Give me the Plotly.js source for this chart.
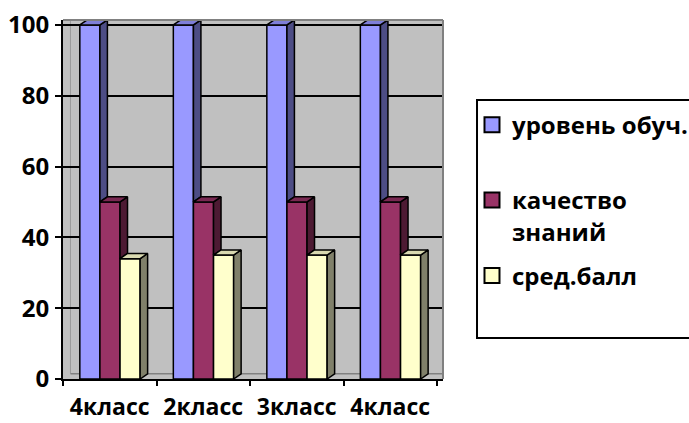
<!DOCTYPE html>
<html>
<head>
<meta charset="utf-8">
<script src="https://cdn.plot.ly/plotly-3.0.1.min.js"></script>
<style>html,body{margin:0;padding:0;background:#fff;}#chart{width:689px;height:423px;}</style>
</head>
<body>
<div id="chart"></div>
<script>
// ---- data ----
const categories = ["4класс", "2класс", "3класс", "4класс"];
const seriesNames = ["уровень обуч.<br> ", "качество<br>знаний", "сред.балл"];
const levelValues = [100, 100, 100, 100];
const qualityValues = [50, 50, 50, 50];
const avgValues = [34, 35, 35, 35];
const yTickVals = [0, 20, 40, 60, 80, 100];

// ---- styles ----
const allValues = [levelValues, qualityValues, avgValues];
const frontColors = ["#9999FF", "#993366", "#FFFFCC"];
const sideColors = ["#4D4D85", "#4D1A33", "#80806A"];
const topColors = ["#7F7FD9", "#7A2952", "#D9D9B0"];
const offsets = [-0.32, -0.105, 0.11];
const barW = 0.215;
const dx = 0.08, dy = 1.45;
const xIdx = categories.map((c, i) => i);
const font = "'Open Sans', 'Noto Sans', sans-serif";
const xRange = [-0.5, 3.564];
const yRange = [0, 101.4];

const traces = [];
// front faces as bars
allValues.forEach((vals, s) => {
  traces.push({
    type: "bar", x: xIdx, y: vals, name: seriesNames[s],
    width: barW, offset: offsets[s],
    marker: {color: frontColors[s], line: {color: "#000", width: 1.5}},
    showlegend: false, hoverinfo: "skip"
  });
});
// side and top faces (3D depth) computed from the data
allValues.forEach((vals, s) => {
  const sx = [], sy = [], tx = [], ty = [];
  vals.forEach((v, i) => {
    const x0 = i + offsets[s];
    const x1 = x0 + barW;
    const lower = s + 1 < allValues.length ? Math.min(allValues[s + 1][i], v) : 0;
    sx.push(x1, x1 + dx, x1 + dx, x1, x1, null);
    sy.push(lower, lower + dy, v + dy, v, lower, null);
    tx.push(x0, x0 + dx, x1 + dx, x1, x0, null);
    ty.push(v, v + dy, v + dy, v, v, null);
  });
  traces.push({type: "scatter", mode: "lines", x: sx, y: sy, fill: "toself",
    fillcolor: sideColors[s], line: {color: "#000", width: 1.5}, showlegend: false, hoverinfo: "skip"});
  traces.push({type: "scatter", mode: "lines", x: tx, y: ty, fill: "toself",
    fillcolor: topColors[s], line: {color: "#000", width: 1.5}, showlegend: false, hoverinfo: "skip"});
});
// legend entries (square swatches)
seriesNames.forEach((n, s) => {
  traces.push({type: "scatter", mode: "markers", x: [null], y: [null], name: n,
    marker: {symbol: "square", size: 15, color: frontColors[s], line: {color: "#000", width: 2}},
    legendgroup: "g" + s, hoverinfo: "skip"});
});
// boundary tick marks on a twin axis
traces.push({type: "scatter", x: [-0.5, 3.5], y: [null, null], xaxis: "x2", showlegend: false, hoverinfo: "skip"});

const layout = {
  width: 689, height: 423,
  margin: {l: 63, r: 246, t: 20, b: 44, autoexpand: false},
  paper_bgcolor: "#ffffff", plot_bgcolor: "#C0C0C0",
  barmode: "overlay",
  showlegend: true,
  font: {family: font, color: "#000"},
  xaxis: {
    range: xRange, tickvals: xIdx, ticktext: categories, ticks: "",
    tickfont: {size: 23, family: font, weight: "bold"}, ticklabelstandoff: 6,
    showgrid: false, zeroline: false, showline: true, linecolor: "#000", linewidth: 2
  },
  xaxis2: {
    overlaying: "x", range: xRange, tickvals: [-0.5, 0.5, 1.5, 2.5, 3.5],
    ticks: "outside", ticklen: 6, tickwidth: 2, tickcolor: "#000",
    showticklabels: false, showgrid: false, zeroline: false, side: "bottom", anchor: "y"
  },
  yaxis: {
    range: yRange, tickvals: yTickVals, ticks: "outside", ticklen: 6, tickwidth: 2, tickcolor: "#000",
    tickfont: {size: 24, family: font, weight: "bold"},
    showgrid: true, gridcolor: "#000", gridwidth: 2, zeroline: false,
    showline: true, linecolor: "#000", linewidth: 2, ticklabelstandoff: 1
  },
  legend: {
    x: 1.0763, xanchor: "left", y: 0.77, yanchor: "top",
    font: {size: 24, family: font, weight: "bold"},
    bgcolor: "rgba(0,0,0,0)", borderwidth: 0,
    traceorder: "grouped", tracegroupgap: 10, valign: "top"
  },
  shapes: [
    {type: "line", xref: "x", yref: "y", x0: xRange[0] + dx, x1: xRange[0] + dx, y0: dy, y1: yRange[1],
     line: {color: "#9a9a9a", width: 1}, layer: "below"},
    {type: "line", xref: "x", yref: "y", x0: xRange[0] + dx, x1: xRange[1], y0: dy, y1: dy,
     line: {color: "#808080", width: 1.5}, layer: "below"},
    {type: "rect", xref: "paper", yref: "paper", x0: 1.0895, x1: 1.70, y0: 0.114, y1: 0.777,
     line: {color: "#000", width: 2}, fillcolor: "rgba(0,0,0,0)"},
    {type: "line", xref: "paper", yref: "paper", x0: 0, x1: 1, y0: 1, y1: 1, line: {color: "#808080", width: 2}},
    {type: "line", xref: "paper", yref: "paper", x0: 1, x1: 1, y0: 0, y1: 1, line: {color: "#808080", width: 2}}
  ]
};
Plotly.newPlot("chart", traces, layout, {displayModeBar: false, staticPlot: true});
</script>
</body>
</html>
